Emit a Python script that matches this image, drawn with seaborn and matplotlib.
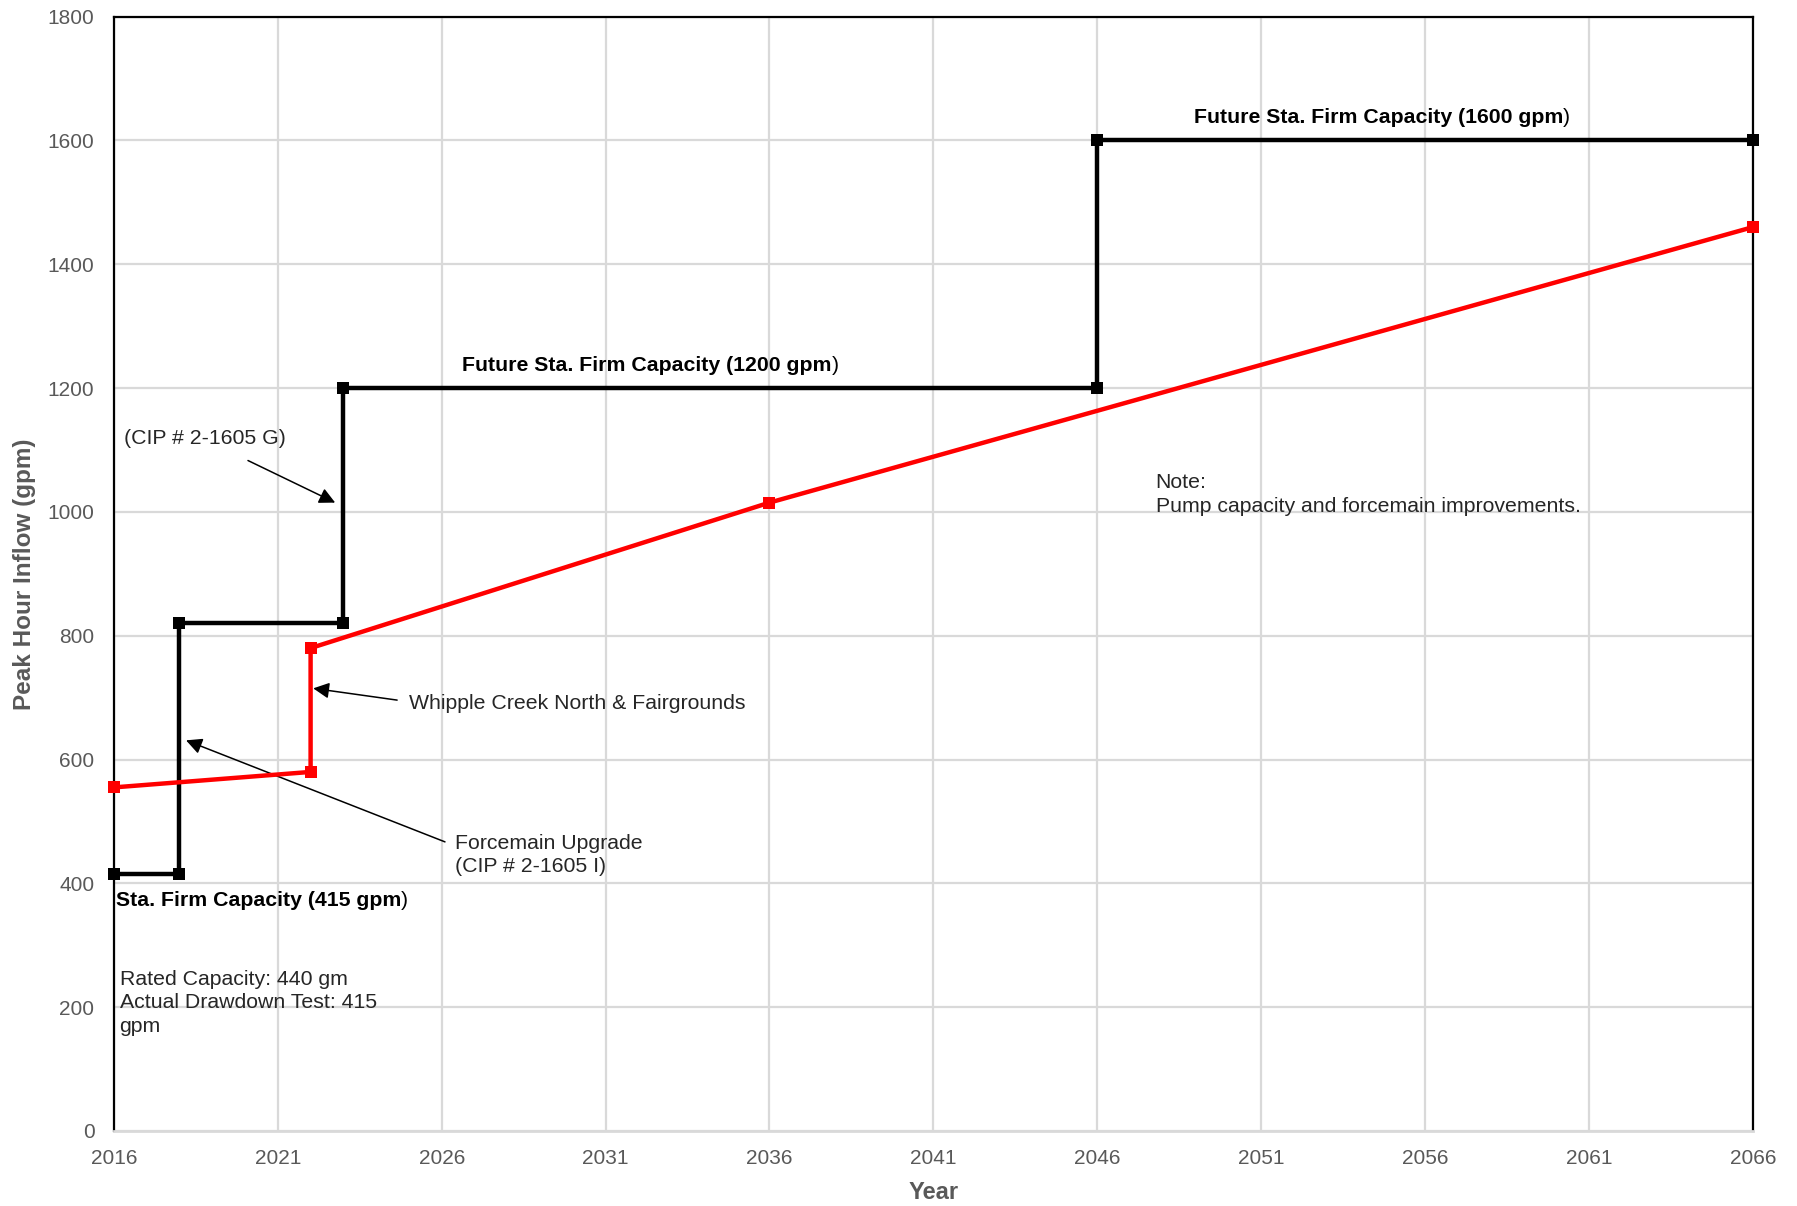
import matplotlib
matplotlib.use("Agg")
import matplotlib.pyplot as plt
import seaborn as sns
import pandas as pd

# Station firm capacity (step line)
cap_years = [2016, 2018, 2018, 2023, 2023, 2046, 2046, 2066]
cap_gpm = [415, 415, 820, 820, 1200, 1200, 1600, 1600]

# Peak hour inflow projection
flow_years = [2016, 2022, 2022, 2036, 2066]
flow_gpm = [555, 580, 780, 1015, 1460]

x_ticks = list(range(2016, 2067, 5))
y_ticks = list(range(0, 1801, 200))

GRID = "#d9d9d9"
TICK = "#595959"

sns.set_theme(style="white")
plt.rcParams["font.family"] = ["Liberation Sans", "DejaVu Sans"]

cap = pd.DataFrame({"Year": cap_years, "gpm": cap_gpm})
flow = pd.DataFrame({"Year": flow_years, "gpm": flow_gpm})

fig = plt.figure(figsize=(17.97, 12.06), dpi=100)
ax = fig.add_axes([0.0634, 0.0622, 0.912, 0.924])

sns.lineplot(data=cap, x="Year", y="gpm", sort=False, estimator=None, ax=ax,
             color="black", lw=3.2, marker="s", markersize=9, markeredgewidth=0,
             zorder=4, clip_on=False)
sns.lineplot(data=flow, x="Year", y="gpm", sort=False, estimator=None, ax=ax,
             color="#ff0000", lw=3.2, marker="s", markersize=9, markeredgewidth=0,
             zorder=5, clip_on=False)

ax.set_xlim(2016, 2066)
ax.set_ylim(0, 1800)
ax.set_xticks(x_ticks)
ax.set_yticks(y_ticks)
ax.grid(True, color=GRID, lw=1.6)
ax.set_axisbelow(True)
ax.tick_params(axis="both", length=0, labelsize=15, labelcolor=TICK)
ax.tick_params(axis="x", pad=13)
ax.tick_params(axis="y", pad=14)
for side in ["left", "right", "top"]:
    ax.spines[side].set_color("black")
    ax.spines[side].set_linewidth(1.6)
ax.spines["bottom"].set_color(GRID)
ax.spines["bottom"].set_linewidth(2)

ax.set_xlabel("Year", fontsize=17, fontweight="bold", color=TICK, labelpad=9)
ax.set_ylabel("Peak Hour Inflow (gpm)", fontsize=17.5, fontweight="bold",
              color=TICK, labelpad=8)

fs = 15.3

# bold labels with regular closing paren
def bold_label(x, y, text):
    t = ax.text(x, y, text, fontsize=fs, fontweight="bold", va="center",
                ha="left", color="black", zorder=6)
    ax.annotate(")", xy=(1, 0.5), xycoords=t, va="center", ha="left",
                fontsize=fs, color="black", zorder=6)

bold_label(2016.05, 372, "Sta. Firm Capacity (415 gpm")
bold_label(2026.63, 1237, "Future Sta. Firm Capacity (1200 gpm")
bold_label(2048.94, 1637, "Future Sta. Firm Capacity (1600 gpm")

ax.text(2016.17, 207, "Rated Capacity: 440 gm\nActual Drawdown Test: 415\ngpm",
        fontsize=fs, va="center", ha="left", linespacing=1.3)
ax.text(2047.78, 1028, "Note:\nPump capacity and forcemain improvements.",
        fontsize=fs, va="center", ha="left", linespacing=1.3)

arrow = dict(arrowstyle="-|>", color="black", lw=1.1, mutation_scale=24,
             shrinkA=0, shrinkB=0)

ax.text(2016.31, 1118, "(CIP # 2-1605 G)", fontsize=fs, va="center", ha="left")
ax.annotate("", xy=(2022.75, 1015), xytext=(2020.09, 1083), arrowprops=arrow)

ax.text(2024.99, 690, "Whipple Creek North & Fairgrounds", fontsize=fs,
        va="center", ha="left")
ax.annotate("", xy=(2022.08, 715), xytext=(2024.64, 696), arrowprops=arrow)

ax.text(2026.42, 446, "Forcemain Upgrade\n(CIP # 2-1605 I)", fontsize=fs,
        va="center", ha="left", linespacing=1.3)
ax.annotate("", xy=(2018.2, 631), xytext=(2026.1, 467), arrowprops=arrow)

fig.savefig("out.png", dpi=100)
plt.close(fig)
